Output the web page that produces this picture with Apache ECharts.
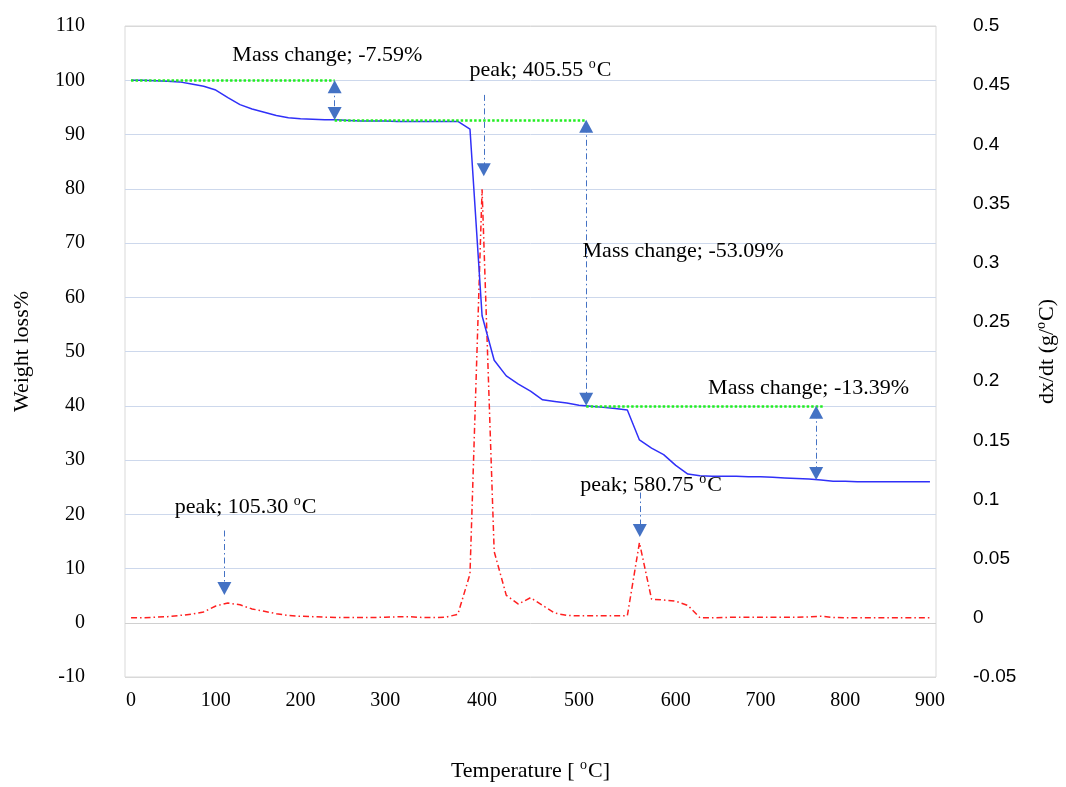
<!DOCTYPE html>
<html>
<head>
<meta charset="utf-8">
<script src="https://cdn.jsdelivr.net/npm/echarts@6/dist/echarts.min.js"></script>
<style>html,body{margin:0;padding:0;background:#fff;overflow:hidden;}#c{width:1066px;height:787px;}</style>
</head>
<body>
<div id="c"></div>
<script>
// ---- data ----
const temps = [0, 14, 29, 43, 57, 71, 86, 100, 114, 129, 143, 157, 171, 186, 200, 214, 229, 243, 257, 271, 286, 300,
  313, 325, 338, 350, 363, 375, 388, 400, 413, 425, 438, 450, 463, 475, 488, 500, 513, 525, 538, 550, 563, 575, 588, 600,
  614, 629, 643, 657, 671, 686, 700, 714, 729, 743, 757, 771, 786, 800, 814, 829, 843, 857, 871, 886, 900];
const tickLabels = [0, 100, 200, 300, 400, 500, 600, 700, 800, 900];
const weightLoss = [100.0, 100.0, 99.9, 99.8, 99.7, 99.3, 98.9, 98.2, 96.8, 95.5, 94.7, 94.1, 93.5, 93.1, 92.9, 92.8, 92.7, 92.7,
  92.6, 92.5, 92.5, 92.5, 92.4, 92.4, 92.4, 92.4, 92.4, 92.4, 91.0, 56.6, 48.4, 45.5, 44.0, 42.7, 41.1, 40.8, 40.5, 40.1,
  39.9, 39.7, 39.5, 39.2, 33.7, 32.2, 31.0, 29.0, 27.4, 27.1, 27.0, 27.0, 27.0, 26.9, 26.9, 26.8, 26.7, 26.6, 26.5, 26.3,
  26.1, 26.1, 26.0, 26.0, 26.0, 26.0, 26.0, 26.0, 26.0];
const dxdt = [0.0, 0.0, 0.0005, 0.001, 0.002, 0.003, 0.005, 0.010, 0.0125, 0.011, 0.0075, 0.0055, 0.0035, 0.002, 0.0013, 0.001,
  0.0005, 0.0003, 0.0003, 0.0003, 0.0003, 0.0005, 0.0008, 0.001, 0.0003, 0.0003, 0.0005, 0.003, 0.037, 0.362, 0.056, 0.019,
  0.0116, 0.017, 0.0105, 0.004, 0.002, 0.0017, 0.0017, 0.0017, 0.0017, 0.0017, 0.0635, 0.0158, 0.015, 0.014, 0.0105, 0.0,
  0.0, 0.0003, 0.0005, 0.0005, 0.0005, 0.0005, 0.0005, 0.0005, 0.0008, 0.0013, 0.0003, 0.0, 0.0, 0.0, 0.0, 0.0, 0.0, 0.0, 0.0];

// annotations (x in sample-index units, y in weight-loss %)
const levelLines = [ // [xStart, xEnd, y]
  [0, 16.82, 100.0],
  [16.82, 37.6, 92.7],
  [37.6, 57.2, 40.0]
];
const doubleArrows = [ // [x, yTop, yBottom]
  [16.82, 100.0, 92.7],
  [37.6, 92.7, 40.0],
  [56.6, 40.0, 26.3]
];
const peakArrows = [ // [x, yStart, yTip]
  [7.71, 17.0, 5.1],
  [29.14, 97.3, 82.3],
  [42.03, 24.0, 15.8]
];
const notes = [ // [x, y, text, hasDegree]
  [8.37, 104.7, 'Mass change; -7.59%'],
  [27.96, 101.9, 'peak; 405.55 ', true],
  [37.3, 68.4, 'Mass change; -53.09%'],
  [47.67, 43.3, 'Mass change; -13.39%'],
  [37.1, 25.3, 'peak; 580.75 ', true],
  [3.6, 21.3, 'peak; 105.30 ', true]
];

// ---- chart ----
const W = 1066, H = 787;
const serif = 'Liberation Serif';
const richTxt = {
  t: {fontFamily: serif, fontSize: 22, color: '#000', lineHeight: 26},
  s: {fontFamily: serif, fontSize: 14, color: '#000', lineHeight: 26, verticalAlign: 'top', padding: [0, 1, 10, 0]}
};
const arrowColor = '#4472c4';
const headPx = 13;
const chart = echarts.init(document.getElementById('c'), null, {width: W, height: H});
const grid = {left: 125, right: 125, top: 26, bottom: 107};
const unitPx = (H - grid.top - grid.bottom) / 120; // px per weight-loss unit
const headHalf = headPx / 2 / unitPx;

const gridColors = ['#d9d9d9', '#d0d0d0'];
for (let i = 0; i < 10; i++) gridColors.push('#cdd8ec');
gridColors.push('#d9d9d9');

const arrowLines = [];
doubleArrows.forEach(a => {
  arrowLines.push([
    {coord: [a[0], a[1] - headHalf], symbol: 'triangle'},
    {coord: [a[0], a[2] + headHalf], symbol: 'triangle'}
  ]);
});
peakArrows.forEach(a => {
  arrowLines.push([
    {coord: [a[0], a[1]], symbol: 'none'},
    {coord: [a[0], a[2] + headHalf], symbol: 'triangle'}
  ]);
});

chart.setOption({
  animation: false,
  backgroundColor: '#fff',
  grid: Object.assign({show: true, borderColor: '#d9d9d9', borderWidth: 1}, grid),
  xAxis: [{
    type: 'category',
    data: temps,
    boundaryGap: true,
    axisLine: {show: false},
    axisTick: {show: false},
    axisLabel: {
      interval: (i, v) => tickLabels.indexOf(Number(v)) >= 0,
      fontFamily: serif, fontSize: 20, color: '#000', margin: 14
    },
    name: 'Temperature [ {s|o}C]',
    nameLocation: 'middle',
    nameGap: 81,
    nameTextStyle: {rich: richTxt, fontFamily: serif, fontSize: 22, color: '#000'}
  }, {
    type: 'value', min: -0.5, max: temps.length - 0.5, show: false
  }],
  yAxis: [{
    type: 'value', min: -10, max: 110, interval: 10, position: 'left',
    axisLine: {show: false}, axisTick: {show: false},
    axisLabel: {fontFamily: serif, fontSize: 20, color: '#000', margin: 40},
    splitLine: {show: true, lineStyle: {color: gridColors, width: 1}},
    name: 'Weight loss%', nameLocation: 'middle', nameGap: 92,
    nameTextStyle: {fontFamily: serif, fontSize: 22, color: '#000'}
  }, {
    type: 'value', min: -0.05, max: 0.5, interval: 0.05, position: 'right',
    axisLine: {show: false}, axisTick: {show: false}, splitLine: {show: false},
    axisLabel: {fontFamily: 'Liberation Sans', fontSize: 19, color: '#000', margin: 37},
    name: 'dx/dt (g/{s|o}C)', nameLocation: 'middle', nameGap: 98,
    nameTextStyle: {rich: richTxt, fontFamily: serif, fontSize: 22, color: '#000'}
  }],
  series: [{
    name: 'Weight loss', type: 'line', data: weightLoss, xAxisIndex: 0, yAxisIndex: 0,
    symbol: 'none', lineStyle: {color: '#3030f8', width: 1.5}, z: 3
  }, {
    name: 'dx/dt', type: 'line', data: dxdt, xAxisIndex: 0, yAxisIndex: 1,
    symbol: 'none', lineStyle: {color: '#ff2020', width: 1.5, type: [6, 3, 1.5, 3]}, z: 2
  }, {
    name: 'levels', type: 'line', data: [], xAxisIndex: 1, yAxisIndex: 0, z: 4,
    markLine: {
      silent: true, symbol: 'none', label: {show: false}, animation: false,
      lineStyle: {color: '#22ee22', width: 2.5, type: [2.5, 2]},
      data: levelLines.map(l => [{coord: [l[0], l[2]]}, {coord: [l[1], l[2]]}])
    }
  }, {
    name: 'arrows', type: 'line', data: [], xAxisIndex: 1, yAxisIndex: 0, z: 5,
    markLine: {
      silent: true, symbolSize: [14, headPx], label: {show: false}, animation: false,
      lineStyle: {color: arrowColor, width: 1, type: [6, 3, 1.5, 3]},
      itemStyle: {color: arrowColor},
      data: arrowLines
    }
  }, {
    name: 'notes', type: 'scatter', xAxisIndex: 1, yAxisIndex: 0, symbolSize: 0, silent: true, z: 6,
    data: notes.map(n => ({
      value: [n[0], n[1]],
      label: {
        show: true, position: 'right', distance: 0, color: '#000', opacity: 1,
        formatter: n[3] ? '{t|' + n[2] + '}{s|o}{t|C}' : '{t|' + n[2] + '}',
        rich: richTxt
      }
    }))
  }]
});
</script>
</body>
</html>
